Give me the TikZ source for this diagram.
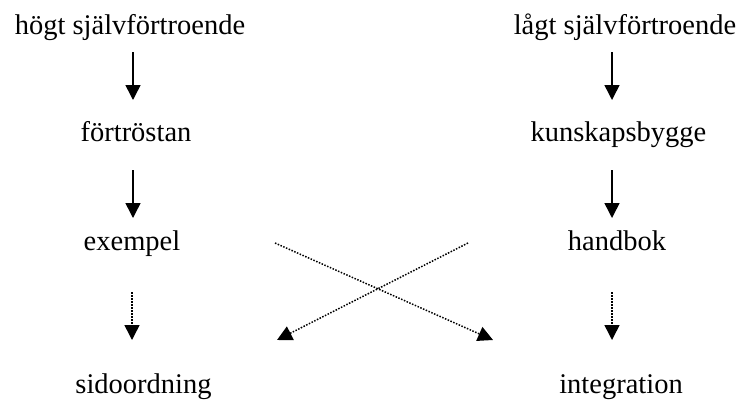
\documentclass[tikz,border=0pt]{standalone}
\usepackage{fontspec}
\setmainfont{Liberation Serif}
\usetikzlibrary{arrows.meta}
\begin{document}
\begin{tikzpicture}[x=1pt,y=-1pt,
  lbl/.style={inner sep=0pt, font=\fontsize{28.5}{32}\selectfont, anchor=base},
  solidarr/.style={line width=1.5pt, -{Triangle[width=15pt,length=15pt]}},
  dotarr/.style={line width=1.5pt, dash pattern=on 1.5pt off 1.5pt, -{Triangle[width=15pt,length=15pt]}}]
\useasboundingbox (0,0) rectangle (743,399);
\node[lbl] (hs) at (130,34) {högt självförtroende};
\node[lbl] (ls) at (625,34) {lågt självförtroende};
\node[lbl] (fo) at (136,141) {förtröstan};
\node[lbl] (ku) at (618.5,141) {kunskapsbygge};
\node[lbl] (ex) at (132,250) {exempel};
\node[lbl] (hb) at (617,250) {handbok};
\node[lbl] (si) at (143.5,393) {sidoordning};
\node[lbl] (in) at (621,393) {integration};
\coordinate (a1s) at (133,52); \coordinate (a1e) at (133,100);
\coordinate (a2s) at (133,170); \coordinate (a2e) at (133,218);
\coordinate (a3s) at (612,52); \coordinate (a3e) at (612,100);
\coordinate (a4s) at (612,170); \coordinate (a4e) at (612,218);
\coordinate (d1s) at (132,292); \coordinate (d1e) at (132,340);
\coordinate (d2s) at (612,292); \coordinate (d2e) at (612,340);
\coordinate (c1s) at (275,243); \coordinate (c1e) at (493,340);
\coordinate (c2s) at (468,243); \coordinate (c2e) at (277,340);
\draw[solidarr] (a1s) -- (a1e);
\draw[solidarr] (a2s) -- (a2e);
\draw[solidarr] (a3s) -- (a3e);
\draw[solidarr] (a4s) -- (a4e);
\draw[dotarr] (d1s) -- (d1e);
\draw[dotarr] (d2s) -- (d2e);
\draw[dotarr] (c1s) -- (c1e);
\draw[dotarr] (c2s) -- (c2e);
\end{tikzpicture}
\end{document}
